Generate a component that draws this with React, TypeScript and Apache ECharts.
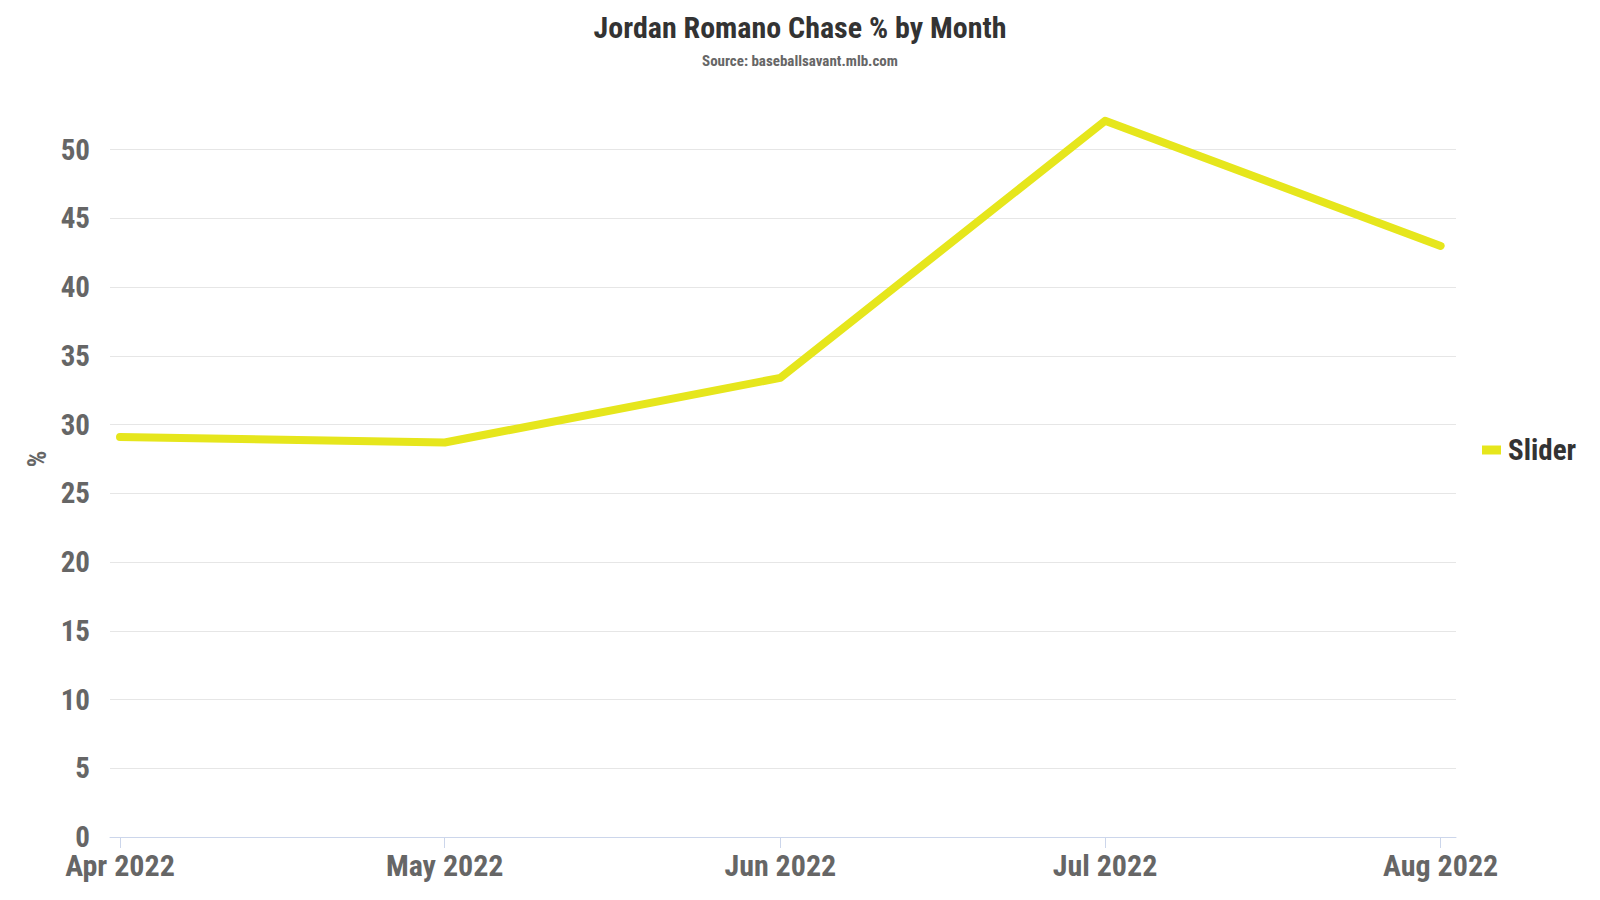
import React, { useEffect, useRef } from "react";
import * as echarts from "echarts";

const monthDates = ["2022-04-01", "2022-05-01", "2022-06-01", "2022-07-01", "2022-08-01"];
const monthNames = ["Jan", "Feb", "Mar", "Apr", "May", "Jun", "Jul", "Aug", "Sep", "Oct", "Nov", "Dec"];
const sliderChase = [29.1, 28.7, 33.4, 52.1, 43.0];
const seriesName = "Slider";
const titleText = "Jordan Romano Chase % by Month";
const subtitleText = "Source: baseballsavant.mlb.com";

const DAY = 86400000;
const toTs = (s: string) => {
  const [y, m, d] = s.split("-").map(Number);
  return Date.UTC(y, m - 1, d);
};

const FONT = "'Liberation Sans Narrow', 'Roboto Condensed', Roboto, sans-serif";

export default function App() {
  const ref = useRef<HTMLDivElement>(null);
  useEffect(() => {
    if (!ref.current) return;
    const chart = echarts.init(ref.current, undefined, { renderer: "svg" });
    const ticks = monthDates.map(toTs);
    chart.setOption({
      animation: false,
      backgroundColor: "#ffffff",
      textStyle: { fontFamily: FONT },
      title: {
        text: titleText,
        subtext: subtitleText,
        left: "center",
        top: 12,
        padding: 0,
        itemGap: 10,
        textStyle: { fontFamily: FONT, fontSize: 30, fontWeight: "bold", color: "#333333", lineHeight: 31 },
        subtextStyle: { fontFamily: FONT, fontSize: 15, fontWeight: "bold", color: "#666666", lineHeight: 16 },
      },
      legend: {
        orient: "vertical",
        left: 1482,
        top: "middle",
        icon: "rect",
        itemWidth: 19,
        itemHeight: 9,
        itemGap: 10,
        padding: 0,
        textStyle: { fontFamily: FONT, fontSize: 29, fontWeight: "bold", color: "#333333", padding: [0, 0, 0, 2] },
        data: [seriesName],
      },
      grid: { left: 110, right: 144, top: 81, bottom: 63, containLabel: false, outerBoundsMode: "none" },
      xAxis: {
        type: "value",
        min: ticks[0] - 0.924 * DAY,
        max: ticks[ticks.length - 1] + 1.42 * DAY,
        axisLine: { show: true, lineStyle: { color: "#ccd6eb", width: 1 } },
        axisTick: { show: true, length: 11, lineStyle: { color: "#ccd6eb" }, customValues: ticks },
        axisLabel: {
          customValues: ticks,
          margin: 15,
          lineHeight: 26,
          fontFamily: FONT,
          fontSize: 30,
          fontWeight: "bold",
          color: "#666666",
          formatter: (v: number) => {
            const d = new Date(v);
            return monthNames[d.getUTCMonth()] + " " + d.getUTCFullYear();
          },
        },
        splitLine: { show: false },
      },
      yAxis: {
        type: "value",
        min: 0,
        max: 55,
        interval: 5,
        name: "%",
        nameLocation: "middle",
        nameRotate: 90,
        nameGap: 57,
        nameTextStyle: { fontFamily: FONT, fontSize: 26, fontWeight: "bold", color: "#666666" },
        axisLine: { show: false },
        axisTick: { show: false },
        axisLabel: {
          margin: 20,
          lineHeight: 22,
          showMaxLabel: false,
          fontFamily: FONT,
          fontSize: 29,
          fontWeight: "bold",
          color: "#666666",
        },
        splitLine: { show: true, showMaxLine: false, lineStyle: { color: "#e6e6e6", width: 1 } },
      },
      series: [
        {
          name: seriesName,
          type: "line",
          data: ticks.map((t, i) => [t, sliderChase[i]]),
          showSymbol: false,
          symbol: "none",
          color: "#e6e61c",
          lineStyle: { width: 8, color: "#e6e61c", cap: "round", join: "round" },
        },
      ],
    });
    return () => chart.dispose();
  }, []);
  return <div ref={ref} style={{ width: 1600, height: 900, position: "absolute", left: 0, top: 0 }} />;
}
